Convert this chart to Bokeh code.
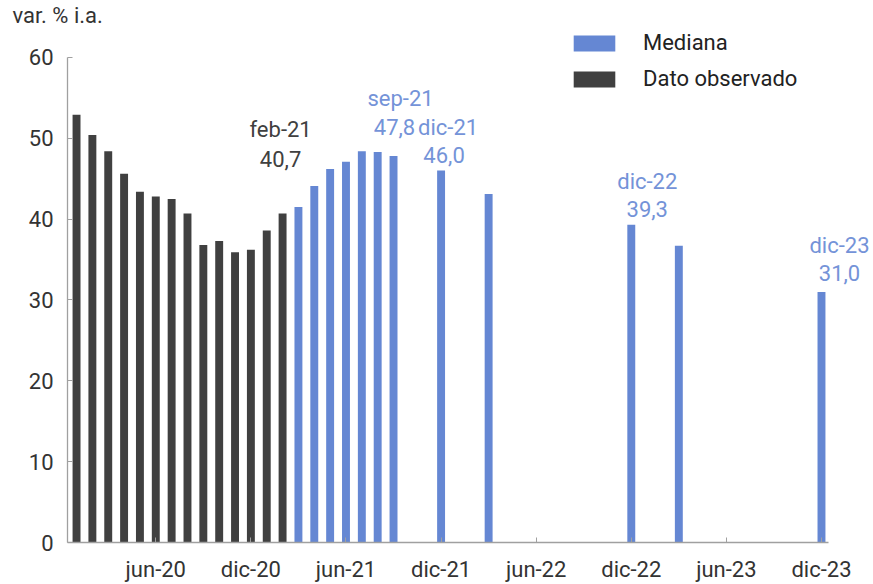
from bokeh.plotting import figure
from bokeh.models import (ColumnDataSource, LabelSet, Legend, LegendItem,
                          FixedTicker, Range1d, Title)
from bokeh.core.properties import value
from bokeh.embed import file_html
from bokeh.resources import INLINE

# ---------------- data ----------------
obs_dates = ["2020-01", "2020-02", "2020-03", "2020-04", "2020-05", "2020-06", "2020-07",
             "2020-08", "2020-09", "2020-10", "2020-11", "2020-12", "2021-01", "2021-02"]
obs_values = [52.9, 50.4, 48.4, 45.6, 43.4, 42.8, 42.5, 40.7, 36.8, 37.3, 35.9, 36.2, 38.6, 40.7]

med_dates = ["2021-03", "2021-04", "2021-05", "2021-06", "2021-07", "2021-08", "2021-09",
             "2021-12", "2022-03", "2022-12", "2023-03", "2023-12"]
med_values = [41.5, 44.1, 46.2, 47.1, 48.4, 48.3, 47.8, 46.0, 43.1, 39.3, 36.7, 31.0]

tick_dates = ["2020-06", "2020-12", "2021-06", "2021-12", "2022-06", "2022-12", "2023-06", "2023-12"]
tick_labels = ["jun-20", "dic-20", "jun-21", "dic-21", "jun-22", "dic-22", "jun-23", "dic-23"]

ann_dates = ["2021-02", "2021-09", "2021-12", "2022-12", "2023-12"]
ann_names = ["feb-21", "sep-21", "dic-21", "dic-22", "dic-23"]

y_ticks = [0, 10, 20, 30, 40, 50, 60]

# ---------------- styles ----------------
BLUE = "#6587d3"
BLUE_TXT = "#7493d8"
DARK = "#404040"
FONT = "Roboto"
# per annotation pixel offsets: (name dx, value dx, value dy, name dy)
ann_offsets = {"feb-21": (-2, -2, 54, 84), "sep-21": (7, 1, 29, 58), "dic-21": (7, 3, 16, 43),
               "dic-22": (16, 16, 16, 43), "dic-23": (18, 18, 19, 46)}

W, H = 873, 584
LEFT, BOTTOM, TOP = 67, 40, 28          # borders (TOP = title panel)
PX_PER_MONTH = 15.85
PX_PER_UNIT = 8.1                        # per percentage point
X0 = -0.57
x_end = X0 + (W - LEFT) / PX_PER_MONTH
y_end = (H - BOTTOM - TOP) / PX_PER_UNIT


def idx(d):
    y, m = d.split("-")
    return (int(y) - 2020) * 12 + int(m) - 1


obs_src = ColumnDataSource(dict(x=[idx(d) for d in obs_dates], top=obs_values))
med_src = ColumnDataSource(dict(x=[idx(d) for d in med_dates], top=med_values))

p = figure(width=W, height=H, output_backend="svg", toolbar_location=None,
           x_range=Range1d(X0, x_end), y_range=Range1d(0, y_end),
           min_border_left=LEFT, min_border_right=0, min_border_top=0, min_border_bottom=BOTTOM)
p.outline_line_color = None
p.xgrid.visible = False
p.ygrid.visible = False
p.background_fill_color = "white"
p.border_fill_color = "white"

p.add_layout(Title(text="var. % i.a.", align="left", offset=12 - LEFT, standoff=0,
                   text_font=FONT, text_font_size="22px", text_font_style="normal",
                   text_color="#333333"), "above")

r_obs = p.vbar(x="x", top="top", width=0.5, source=obs_src, fill_color=DARK, line_color=None)
r_med = p.vbar(x="x", top="top", width=0.5, source=med_src, fill_color=BLUE, line_color=None)

# axes
p.xaxis.ticker = FixedTicker(ticks=[idx(d) for d in tick_dates])
p.xaxis.major_label_overrides = {idx(d): l for d, l in zip(tick_dates, tick_labels)}
p.xaxis.bounds = (X0, idx("2023-12") + 0.44)
p.yaxis.ticker = FixedTicker(ticks=y_ticks)
p.yaxis.bounds = (0, 60)
for ax in (p.xaxis[0], p.yaxis[0]):
    ax.axis_line_color = "#a0a0a0"
    ax.axis_line_width = 1.3
    ax.major_tick_line_color = "#a0a0a0"
    ax.major_tick_in = 5
    ax.major_tick_out = 0
    ax.minor_tick_line_color = None
    ax.major_label_text_font = FONT
    ax.major_label_text_font_size = "22px"
    ax.major_label_text_color = "#333333"
p.xaxis.major_label_standoff = 14
p.yaxis.major_label_standoff = 14

# annotations
all_vals = dict(zip(obs_dates + med_dates, obs_values + med_values))
rows = dict(x=[], y=[], name=[], val=[], dx_n=[], dx_v=[], dy_v=[], dy_n=[], color=[])
for d, n in zip(ann_dates, ann_names):
    v = all_vals[d]
    dxn, dxv, dyv, dyn = ann_offsets[n]
    rows["x"].append(idx(d))
    rows["y"].append(v)
    rows["name"].append(n)
    rows["val"].append(f"{v:.1f}".replace(".", ","))
    rows["dx_n"].append(dxn)
    rows["dx_v"].append(dxv)
    rows["dy_v"].append(dyv)
    rows["dy_n"].append(dyn)
    rows["color"].append(DARK if d in obs_dates else BLUE_TXT)
ann_src = ColumnDataSource(rows)
for col, dx, dy in (("name", "dx_n", "dy_n"), ("val", "dx_v", "dy_v")):
    p.add_layout(LabelSet(x="x", y="y", text=col, x_offset=dx, y_offset=dy, source=ann_src,
                          text_align="center", text_baseline="middle", text_color="color",
                          text_font=value(FONT), text_font_size=value("22px")))

# legend
legend = Legend(items=[LegendItem(label="Mediana", renderers=[r_med]),
                       LegendItem(label="Dato observado", renderers=[r_obs])],
                location=(501, H - BOTTOM - 93), glyph_width=52, glyph_height=20,
                label_height=20, label_standoff=23, spacing=11, padding=0, margin=0,
                border_line_color=None, background_fill_alpha=0,
                label_text_font=FONT, label_text_font_size="22px", label_text_color="#222222")
p.add_layout(legend, "center")

open("out.html", "w").write(file_html(p, INLINE))
